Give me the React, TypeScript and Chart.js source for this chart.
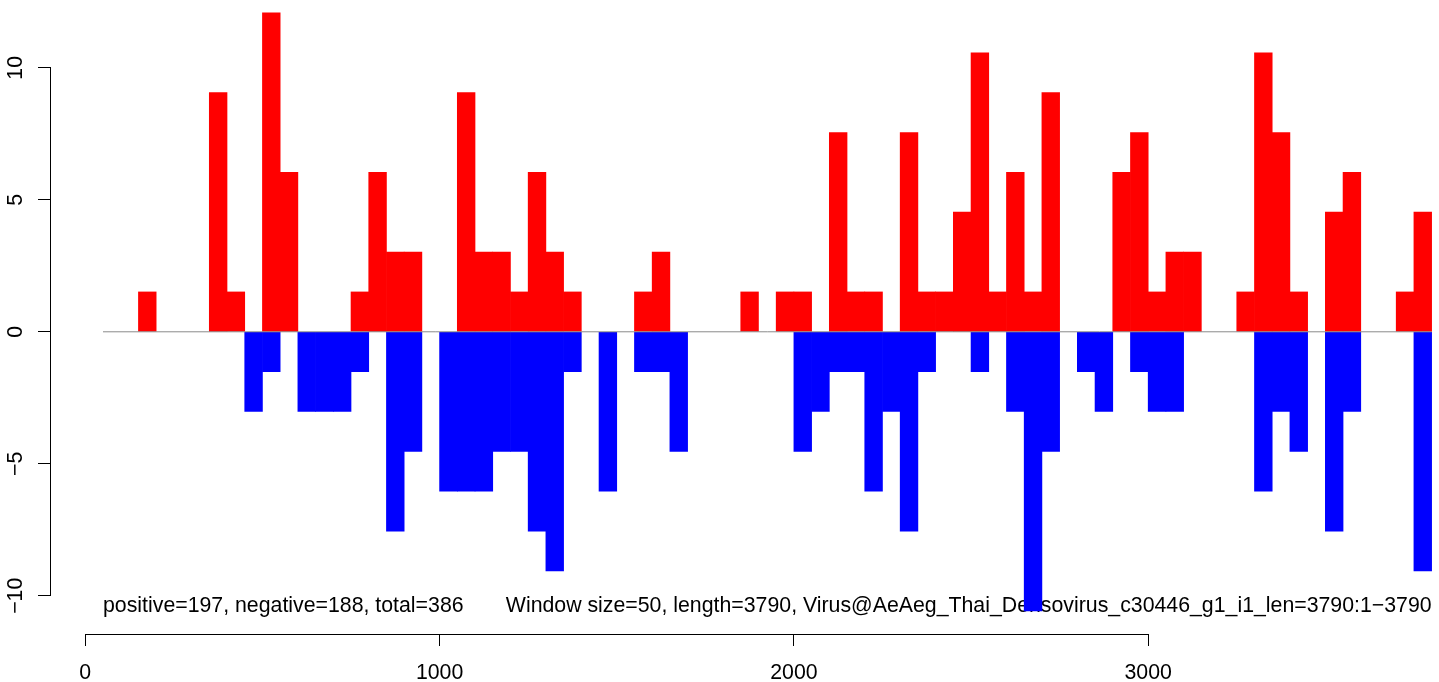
import React, { useEffect, useRef } from "react";
import { Chart, registerables } from "chart.js";

Chart.register(...registerables);

// ---- data ----
const windowSize = 50;
const windowStarts = [
  50, 100, 150, 200, 250, 300, 350, 400, 450, 500,
  550, 600, 650, 700, 750, 800, 850, 900, 950, 1000,
  1050, 1100, 1150, 1200, 1250, 1300, 1350, 1400, 1450, 1500,
  1550, 1600, 1650, 1700, 1750, 1800, 1850, 1900, 1950, 2000,
  2050, 2100, 2150, 2200, 2250, 2300, 2350, 2400, 2450, 2500,
  2550, 2600, 2650, 2700, 2750, 2800, 2850, 2900, 2950, 3000,
  3050, 3100, 3150, 3200, 3250, 3300, 3350, 3400, 3450, 3500,
  3550, 3600, 3650, 3700, 3750,
];
const positiveValues = [
  0, 0, 1.51, 0, 0, 0, 9.06, 1.51, 0, 12.08,
  6.04, 0, 0, 0, 1.51, 6.04, 3.02, 3.02, 0, 0,
  9.06, 3.02, 3.02, 1.51, 6.04, 3.02, 1.51, 0, 0, 0,
  1.51, 3.02, 0, 0, 0, 0, 1.51, 0, 1.51, 1.51,
  0, 7.55, 1.51, 1.51, 0, 7.55, 1.51, 1.51, 4.53, 10.57,
  1.51, 6.04, 1.51, 9.06, 0, 0, 0, 6.04, 7.55, 1.51,
  3.02, 3.02, 0, 0, 1.51, 10.57, 7.55, 1.51, 0, 4.53,
  6.04, 0, 0, 1.51, 4.53,
];
const negativeValues = [
  0, 0, 0, 0, 0, 0, 0, 0, -3.02, -1.51,
  0, -3.02, -3.02, -3.02, -1.51, 0, -7.55, -4.53, 0, -6.04,
  -6.04, -6.04, -4.53, -4.53, -7.55, -9.06, -1.51, 0, -6.04, 0,
  -1.51, -1.51, -4.53, 0, 0, 0, 0, 0, 0, -4.53,
  -3.02, -1.51, -1.51, -6.04, -3.02, -7.55, -1.51, 0, 0, -1.51,
  0, -3.02, -10.57, -4.53, 0, -1.51, -3.02, 0, -1.51, -3.02,
  -3.02, 0, 0, 0, 0, -6.04, -3.02, -4.53, 0, -7.55,
  -3.02, 0, 0, 0, -9.06,
];
const zeroLineX = [50, 3800];
const xTickValues = [0, 1000, 2000, 3000];
const xTickLabels = ["0", "1000", "2000", "3000"];
const yTickValues = [-10, -5, 0, 5, 10];
const yTickLabels = ["\u221210", "\u22125", "0", "5", "10"];
const summaryLabel = "positive=197, negative=188, total=386";
const infoLabel =
  "Window size=50, length=3790, Virus@AeAeg_Thai_Densovirus_c30446_g1_i1_len=3790:1\u22123790";

// ---- layout / style ----
const W = 1439;
const H = 682;
const FONT = '"Liberation Sans", Arial, Helvetica, sans-serif';
const FONT_SIZE = 21.3;
const X_MIN = -96.8;
const X_MAX = 3820.8;
const Y_MIN = -11.447;
const Y_MAX = 12.568;
const TEXT_Y = -10.61;

const rAxesPlugin = {
  id: "rAxes",
  beforeDatasetsDraw(chart: any) {
    const { ctx, scales } = chart;
    const x = scales.x;
    const y = scales.y;
    ctx.save();
    ctx.font = `${FONT_SIZE}px ${FONT}`;
    ctx.fillStyle = "#000000";
    ctx.textBaseline = "alphabetic";
    const ty = y.getPixelForValue(TEXT_Y);
    ctx.textAlign = "left";
    ctx.fillText(summaryLabel, x.getPixelForValue(zeroLineX[0]), ty);
    ctx.textAlign = "right";
    ctx.fillText(infoLabel, x.getPixelForValue(zeroLineX[1]), ty);
    ctx.restore();
  },
  afterDraw(chart: any) {
    const { ctx, scales } = chart;
    const x = scales.x;
    const y = scales.y;
    ctx.save();
    ctx.strokeStyle = "#000000";
    ctx.lineWidth = 1;
    ctx.lineCap = "square";
    const ay = Math.round(x.top) + 0.5;
    const x0 = Math.round(x.getPixelForValue(xTickValues[0]) - 0.5) + 0.5;
    const x1 = Math.round(x.getPixelForValue(xTickValues[xTickValues.length - 1]) - 0.5) + 0.5;
    ctx.beginPath();
    ctx.moveTo(x0, ay);
    ctx.lineTo(x1, ay);
    ctx.stroke();
    const ax = Math.round(y.right) - 0.5;
    const y0 = Math.round(y.getPixelForValue(yTickValues[0]) - 0.5) + 0.5;
    const y1 = Math.round(y.getPixelForValue(yTickValues[yTickValues.length - 1]) - 0.5) + 0.5;
    ctx.beginPath();
    ctx.moveTo(ax, y0);
    ctx.lineTo(ax, y1);
    ctx.stroke();
    ctx.restore();
  },
};

export default function App() {
  const canvasRef = useRef<HTMLCanvasElement | null>(null);

  useEffect(() => {
    const canvas = canvasRef.current;
    if (!canvas) return;
    Chart.defaults.font.family = FONT;

    const centers = windowStarts.map((s) => s + windowSize / 2);
    const posData = centers.map((cx, i) => ({ x: cx, y: positiveValues[i] === 0 ? null : positiveValues[i] }));
    const negData = centers.map((cx, i) => ({ x: cx, y: negativeValues[i] === 0 ? null : negativeValues[i] }));

    const chart = new Chart(canvas, {
      type: "bar",
      data: {
        datasets: [
          {
            type: "line",
            data: zeroLineX.map((v) => ({ x: v, y: 0 })),
            borderColor: "#8a8a8a",
            borderWidth: 1,
            pointRadius: 0,
            fill: false,
            order: 0,
          } as any,
          {
            type: "bar",
            data: posData,
            backgroundColor: "#ff0000",
            borderWidth: 0,
            grouped: false,
            barPercentage: 1,
            categoryPercentage: 1,
            order: 1,
          } as any,
          {
            type: "bar",
            data: negData,
            backgroundColor: "#0000ff",
            borderWidth: 0,
            grouped: false,
            barPercentage: 1,
            categoryPercentage: 1,
            order: 2,
          } as any,
        ],
      },
      options: {
        responsive: false,
        animation: false,
        devicePixelRatio: 1,
        events: [],
        layout: { padding: 0 },
        plugins: {
          legend: { display: false },
          tooltip: { enabled: false },
          title: { display: false },
        },
        scales: {
          x: {
            type: "linear",
            position: "bottom",
            min: X_MIN,
            max: X_MAX,
            offset: false,
            afterBuildTicks: (s: any) => {
              s.ticks = xTickValues.map((v) => ({ value: v }));
            },
            afterFit: (s: any) => {
              s.height = 48;
              s.paddingLeft = 0;
              s.paddingRight = 0;
            },
            grid: {
              display: true,
              drawOnChartArea: false,
              drawTicks: true,
              tickLength: 12,
              color: "#000000",
              lineWidth: 1,
              offset: false,
            },
            border: { display: false },
            ticks: {
              color: "#000000",
              font: { family: FONT, size: FONT_SIZE },
              padding: 14,
              minRotation: 0,
              maxRotation: 0,
              autoSkip: false,
              callback: (_v: any, i: number) => xTickLabels[i],
            },
          },
          y: {
            type: "linear",
            position: "left",
            min: Y_MIN,
            max: Y_MAX,
            afterBuildTicks: (s: any) => {
              s.ticks = yTickValues.map((v) => ({ value: v }));
            },
            afterFit: (s: any) => {
              s.width = 51;
              s.paddingTop = 0;
              s.paddingBottom = 0;
            },
            grid: {
              display: true,
              drawOnChartArea: false,
              drawTicks: true,
              tickLength: 13,
              color: "#000000",
              lineWidth: 1,
            },
            border: { display: false },
            ticks: {
              color: "#000000",
              font: { family: FONT, size: FONT_SIZE },
              padding: 4,
              minRotation: 90,
              maxRotation: 90,
              crossAlign: "center",
              autoSkip: false,
              callback: (_v: any, i: number) => yTickLabels[i],
            },
          },
        },
      } as any,
      plugins: [rAxesPlugin],
    });

    return () => {
      chart.destroy();
    };
  }, []);

  return (
    <div style={{ position: "fixed", left: 0, top: 0, width: W, height: H, background: "#ffffff" }}>
      <canvas ref={canvasRef} width={W} height={H} style={{ display: "block", width: W, height: H }} />
    </div>
  );
}
